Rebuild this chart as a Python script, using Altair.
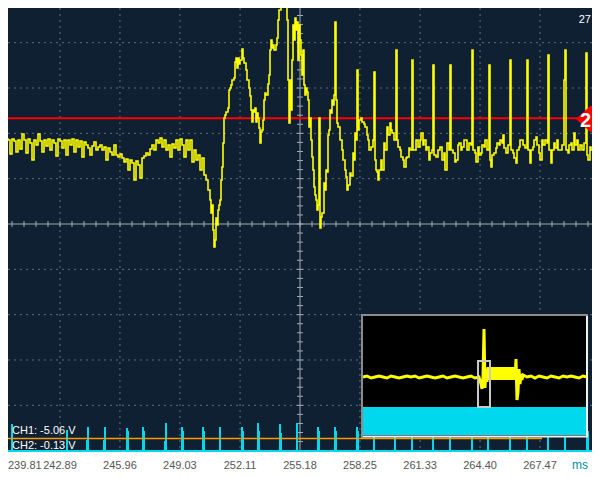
import altair as alt
import pandas as pd

# ---------------- time base / vertical scale ----------------
LABEL_TEXTS = ["239.81", "242.89", "245.96", "249.03", "252.11",
               "255.18", "258.25", "261.33", "264.40", "267.47"]
LABEL_VALUES = [float(s) for s in LABEL_TEXTS]
MS_PER_DIV = 3.0725
SAMPLES_PER_DIV = 60
DT = MS_PER_DIV / SAMPLES_PER_DIV
T0 = LABEL_VALUES[1] - SAMPLES_PER_DIV * DT
COUNTS_PER_DIV = 45.33
CENTER_T = LABEL_VALUES[5]


def t(idx):
    return T0 + idx * DT


X_DOMAIN = [t(8), t(592)]
Y_DOMAIN = [-226, 216]

# ---------------- CH1 (yellow) record: sample index, ADC counts ----------------
CH1_IDX = [2, 4, 6, 8, 10, 12, 14, 16, 18, 20, 22, 24, 26, 28, 30, 32, 34, 36, 38, 40,
           42, 44, 46, 48, 50, 52, 54, 56, 58, 60, 62, 64, 66, 68, 70, 72, 74, 76, 78, 80,
           82, 84, 86, 88, 90, 92, 94, 96, 98, 100, 102, 104, 106, 108, 110, 112, 114, 116, 118, 120,
           122, 124, 126, 128, 130, 132, 134, 136, 138, 140, 142, 144, 146, 148, 150, 152, 154, 156, 158, 160,
           162, 164, 166, 168, 170, 172, 174, 176, 178, 180, 182, 184, 186, 188, 190, 192, 194, 196, 198, 200,
           202, 204, 206, 208, 210, 211, 212, 213, 214, 215, 216, 217, 218, 219, 220, 221, 222, 223, 224, 225,
           226, 228, 229, 230, 231, 232, 234, 235, 236, 237, 238, 239, 240, 242, 243, 244, 246, 247, 249, 250,
           251, 252, 253, 254, 255, 256, 257, 258, 259, 260, 261, 262, 263, 264, 265, 266, 268, 269, 270, 271,
           272, 273, 274, 276, 277, 278, 279, 281, 285, 287, 288, 289, 290, 291, 292, 293, 294, 295, 296, 297,
           298, 299, 300, 301, 302, 303, 304, 305, 306, 307, 308, 309, 310, 311, 312, 313, 314, 315, 316, 317,
           318, 319, 320, 321, 322, 324, 325, 326, 327, 328, 329, 330, 331, 332, 333, 334, 335, 336, 337, 338,
           340, 342, 343, 345, 346, 347, 348, 350, 351, 353, 354, 355, 356, 357, 358, 359, 361, 362, 364, 365,
           367, 368, 369, 371, 373, 374, 375, 376, 377, 378, 379, 381, 382, 384, 385, 387, 388, 390, 391, 392,
           394, 396, 397, 398, 400, 401, 403, 404, 406, 407, 409, 410, 412, 413, 414, 416, 418, 420, 421, 423,
           424, 426, 427, 429, 430, 432, 433, 434, 436, 438, 440, 442, 444, 445, 447, 449, 450, 451, 453, 455,
           456, 458, 459, 461, 462, 464, 466, 467, 469, 471, 472, 473, 475, 476, 478, 479, 481, 482, 484, 485,
           487, 489, 490, 491, 492, 494, 496, 497, 499, 500, 502, 503, 504, 506, 508, 510, 511, 513, 514, 516,
           517, 519, 520, 522, 523, 525, 527, 528, 530, 531, 533, 534, 536, 537, 539, 540, 542, 543, 545, 547,
           548, 549, 551, 552, 554, 555, 557, 558, 560, 562, 564, 565, 566, 568, 569, 571, 572, 574, 575, 577,
           578, 580, 582, 584, 586, 587, 588, 590, 591, 593, 594, 596, 598, 600]
CH1_COUNTS = [85, 74, 85, 84, 70, 85, 83, 72, 84, 75, 90, 84, 71, 85, 81, 64, 84, 79, 90, 83,
              72, 84, 78, 85, 74, 84, 81, 68, 85, 83, 76, 84, 69, 84, 79, 85, 72, 84, 77, 83,
              67, 82, 79, 76, 69, 78, 82, 74, 77, 79, 74, 77, 64, 76, 72, 69, 79, 69, 67, 70,
              66, 62, 65, 54, 64, 61, 44, 63, 59, 46, 66, 68, 71, 69, 75, 79, 74, 84, 81, 86,
              77, 84, 74, 79, 67, 80, 76, 84, 74, 85, 79, 67, 84, 74, 84, 62, 74, 64, 69, 54,
              66, 49, 44, 34, 24, 11, 19, -6, -23, -16, 6, -1, 14, 19, 24, 44, 57, 81, 106, 109,
              112, 116, 134, 136, 139, 144, 146, 162, 166, 156, 166, 160, 164, 175, 166, 161, 154, 144, 136, 128,
              114, 102, 114, 112, 116, 102, 111, 106, 96, 81, 92, 94, 104, 124, 131, 129, 140, 149, 174, 184,
              176, 179, 174, 179, 186, 204, 214, 234, 234, 204, 144, 101, 144, 114, 164, 199, 184, 206, 194, 202,
              164, 199, 184, 169, 149, 174, 139, 129, 136, 132, 124, 97, 106, 84, 67, 54, 37, 29, 24, 14,
              19, 106, -4, 7, 11, 41, 34, 54, 52, 89, 94, 114, 111, 124, 119, 129, 202, 124, 101, 97,
              84, 74, 64, 54, 47, 34, 39, 51, 48, 71, 64, 91, 84, 154, 94, 104, 106, 102, 100, 97,
              89, 84, 74, 77, 84, 152, 64, 54, 52, 44, 54, 64, 54, 81, 74, 97, 89, 101, 94, 91,
              84, 174, 84, 77, 74, 67, 64, 57, 66, 67, 76, 74, 164, 74, 74, 84, 77, 84, 91, 79,
              84, 74, 77, 64, 71, 74, 159, 69, 67, 74, 77, 64, 71, 54, 81, 74, 159, 74, 71, 62,
              64, 79, 81, 74, 77, 84, 84, 74, 81, 79, 174, 74, 71, 62, 77, 69, 71, 79, 77, 84,
              74, 159, 64, 57, 69, 71, 76, 81, 79, 84, 81, 89, 76, 71, 79, 164, 74, 71, 66, 61,
              74, 77, 84, 84, 79, 76, 164, 74, 61, 74, 77, 84, 87, 79, 71, 64, 84, 79, 84, 81,
              169, 74, 61, 74, 81, 76, 84, 74, 74, 79, 144, 174, 74, 71, 79, 81, 74, 91, 79, 84,
              74, 79, 74, 81, 171, 69, 64, 77, 74, 81, 76, 81, 77, 84]

# ---------------- CH2 (cyan) pulses: sample index, top level in counts ----------------
CH2_IDX = [12, 67, 87, 88, 104, 105, 127, 128, 143, 144, 165, 166, 182, 183, 203, 204, 220, 242, 243,
           258, 259, 280, 281, 297, 318, 319, 335, 336, 357, 358, 374, 395, 412, 433, 450, 472, 488,
           510, 527, 548, 565, 587, 588]
CH2_TOP = [-200, -206, -216, -203, -216, -203, -204, -207, -203, -207, -217, -199, -203, -207, -203, -207,
           -203, -203, -207, -199, -207, -200, -209, -199, -203, -207, -203, -207, -203, -207, -203, -203,
           -203, -203, -203, -203, -203, -203, -203, -203, -203, -204, -207]

# ---------------- overview window (inset) record ----------------
INSET_IDX = ([i * 4 for i in range(30)] + [118, 119, 120, 121, 122, 123, 124]
             + list(range(125, 153)) + [153, 154, 155, 156, 157, 158, 159, 160]
             + [164 + 4 * i for i in range(16)])
INSET_COUNTS = ([-153, -152, -154, -153, -152, -153, -154, -152, -153, -154, -153, -152, -153, -152, -154,
                 -153, -152, -153, -154, -153, -152, -154, -153, -152, -153, -154, -153, -152, -154, -153]
                + [-160, -165, -153, -105, -164, -145, -158]
                + [-143, -156] * 14
                + [-135, -176, -168, -145, -160, -150, -156, -151]
                + [-153, -152, -154, -152, -153, -154, -152, -153, -154, -152, -153, -152, -153, -154, -152, -153])

CH1_TEXT = "CH1: -5.06 V"
CH2_TEXT = "CH2: -0.13 V"
TRIG_TEXT = "2"
CORNER_TEXT = "27"
UNIT_TEXT = "ms"

# ---------------- styles ----------------
NAVY = "#0F2033"
GRID = "#5F6F82"
CENTER = "#A3ACB6"
YELLOW = "#FFFF00"
CYAN = "#00D8EE"
FONT = "Liberation Sans"


def X(field="t"):
    return alt.X(field, type="quantitative",
                 scale=alt.Scale(domain=X_DOMAIN, nice=False, zero=False), axis=None)


def Y(field="v"):
    return alt.Y(field, type="quantitative",
                 scale=alt.Scale(domain=Y_DOMAIN, nice=False, zero=False), axis=None)


layers = []

# graticule
vgrid = pd.DataFrame({"t": [v for i, v in enumerate(LABEL_VALUES) if i not in (0, 5)]})
layers.append(alt.Chart(vgrid).mark_rule(color=GRID, strokeDash=[2, 4], strokeWidth=1).encode(x=X()))
hgrid = pd.DataFrame({"v": [k * COUNTS_PER_DIV for k in (-4, -3, -2, -1, 1, 2, 3, 4)]})
layers.append(alt.Chart(hgrid).mark_rule(color=GRID, strokeDash=[2, 4], strokeWidth=1).encode(y=Y()))
layers.append(alt.Chart(pd.DataFrame({"t": [CENTER_T]})).mark_rule(color=CENTER, strokeWidth=1).encode(x=X()))
layers.append(alt.Chart(pd.DataFrame({"v": [0]})).mark_rule(color=CENTER, strokeWidth=1).encode(y=Y()))
htick = pd.DataFrame({"t": [t(i) for i in range(12, 592, 12)], "v": 0})
layers.append(alt.Chart(htick).mark_tick(orient="vertical", size=6, thickness=1, color=CENTER, opacity=1)
              .encode(x=X(), y=Y()))
vtick = pd.DataFrame({"t": CENTER_T, "v": [k * COUNTS_PER_DIV / 5 for k in range(-24, 24)]})
layers.append(alt.Chart(vtick).mark_tick(orient="horizontal", size=6, thickness=1, color=CENTER, opacity=1)
              .encode(x=X(), y=Y()))

# CH2 pulses
ch2 = pd.DataFrame({"t": [t(i) for i in CH2_IDX], "v": CH2_TOP, "v0": -226})
layers.append(alt.Chart(ch2).mark_rule(color=CYAN, strokeWidth=2, clip=True)
              .encode(x=X(), y=Y(), y2=alt.Y2("v0")))

# CH2 reference (orange) and trigger level (red)
layers.append(alt.Chart(pd.DataFrame({"t": [t(0)], "t2": [t(542)], "v": [-214.5]}))
              .mark_rule(color="#FF9900", strokeWidth=1.5, clip=True)
              .encode(x=X(), x2=alt.X2("t2"), y=Y()))
layers.append(alt.Chart(pd.DataFrame({"t": [t(0)], "t2": [t(578)], "v": [105.7]}))
              .mark_rule(color="#FF0000", strokeWidth=2, clip=True)
              .encode(x=X(), x2=alt.X2("t2"), y=Y()))

# CH1 trace
ch1 = pd.DataFrame({"t": [t(i) for i in CH1_IDX], "v": CH1_COUNTS})
layers.append(alt.Chart(ch1).mark_line(color=YELLOW, strokeWidth=1.6, clip=True, interpolate="step-after")
              .encode(x=X(), y=Y()))

# overview window
frame = pd.DataFrame({"t": [t(362)], "t2": [t(587)], "v": [-91], "v2": [-212.5]})
layers.append(alt.Chart(frame).mark_rect(fill="#000000", stroke="#F2F2F2", strokeWidth=2)
              .encode(x=X(), x2=alt.X2("t2"), y=Y(), y2=alt.Y2("v2")))
layers.append(alt.Chart(pd.DataFrame({"t": [t(362)], "v": [-90], "v2": [-213]}))
              .mark_rule(color="#8C8C8C", strokeWidth=2).encode(x=X(), y=Y(), y2=alt.Y2("v2")))
layers.append(alt.Chart(pd.DataFrame({"t": [t(361)], "t2": [t(588)], "v": [-91]}))
              .mark_rule(color="#8C8C8C", strokeWidth=2).encode(x=X(), x2=alt.X2("t2"), y=Y()))
layers.append(alt.Chart(pd.DataFrame({"t": [t(363)], "t2": [t(586)], "v": [-183], "v2": [-211]}))
              .mark_rect(fill=CYAN).encode(x=X(), x2=alt.X2("t2"), y=Y(), y2=alt.Y2("v2")))
inset = pd.DataFrame({"t": [t(363 + i) for i in INSET_IDX], "v": INSET_COUNTS})
layers.append(alt.Chart(inset).mark_line(color=YELLOW, strokeWidth=3).encode(x=X(), y=Y()))
layers.append(alt.Chart(pd.DataFrame({"t": [t(478)], "t2": [t(490)], "v": [-137], "v2": [-183]}))
              .mark_rect(fill=None, stroke="#C8C8C8", strokeWidth=2)
              .encode(x=X(), x2=alt.X2("t2"), y=Y(), y2=alt.Y2("v2")))

# trigger marker
layers.append(alt.Chart(pd.DataFrame({"t": [t(589)], "v": [105]}))
              .mark_point(shape="M -1 0 L 0.1 -1 L 1 -1 L 1 1 L 0.1 1 Z", size=676,
                          filled=True, fill="#FF0000", opacity=1, strokeWidth=0)
              .encode(x=X(), y=Y()))
layers.append(alt.Chart(pd.DataFrame({"t": [t(580)], "v": [97], "s": [TRIG_TEXT]}))
              .mark_text(align="left", baseline="alphabetic", font=FONT, fontSize=20,
                         fontWeight="bold", color="#FFFFFF")
              .encode(x=X(), y=Y(), text="s:N"))
layers.append(alt.Chart(pd.DataFrame({"t": [t(591)], "v": [201], "s": [CORNER_TEXT]}))
              .mark_text(align="right", baseline="alphabetic", font=FONT, fontSize=11, color="#FFFFFF")
              .encode(x=X(), y=Y(), text="s:N"))

# channel readouts
layers.append(alt.Chart(pd.DataFrame({"t": [t(12), t(12)], "v": [-210, -225], "s": [CH1_TEXT, CH2_TEXT]}))
              .mark_text(align="left", baseline="alphabetic", font=FONT, fontSize=11, color="#FFFFFF")
              .encode(x=X(), y=Y(), text="s:N"))

# bottom edge line
layers.append(alt.Chart(pd.DataFrame({"v": [-227]})).mark_rule(color=CYAN, strokeWidth=2).encode(y=Y()))

# time labels
lab = pd.DataFrame({"t": LABEL_VALUES[1:], "v": -245, "s": LABEL_TEXTS[1:]})
layers.append(alt.Chart(lab).mark_text(align="center", baseline="alphabetic", font=FONT,
                                       fontSize=11, color="#555555")
              .encode(x=X(), y=Y(), text="s:N"))
layers.append(alt.Chart(pd.DataFrame({"t": [X_DOMAIN[0]], "v": [-245], "s": [LABEL_TEXTS[0]]}))
              .mark_text(align="left", baseline="alphabetic", font=FONT, fontSize=11, color="#555555")
              .encode(x=X(), y=Y(), text="s:N"))
layers.append(alt.Chart(pd.DataFrame({"t": [t(580)], "v": [-245], "s": [UNIT_TEXT]}))
              .mark_text(align="center", baseline="alphabetic", font=FONT, fontSize=12, color="#008C9A")
              .encode(x=X(), y=Y(), text="s:N"))

chart = (alt.layer(*layers)
         .properties(width=584, height=442,
                     padding={"left": 0, "top": 0, "right": 0, "bottom": 27},
                     autosize=alt.AutoSizeParams(type="none"),
                     background="#FFFFFF")
         .configure_view(fill=NAVY, stroke=None))

chart.save("out.html", embed_options={"renderer": "svg", "actions": False})
